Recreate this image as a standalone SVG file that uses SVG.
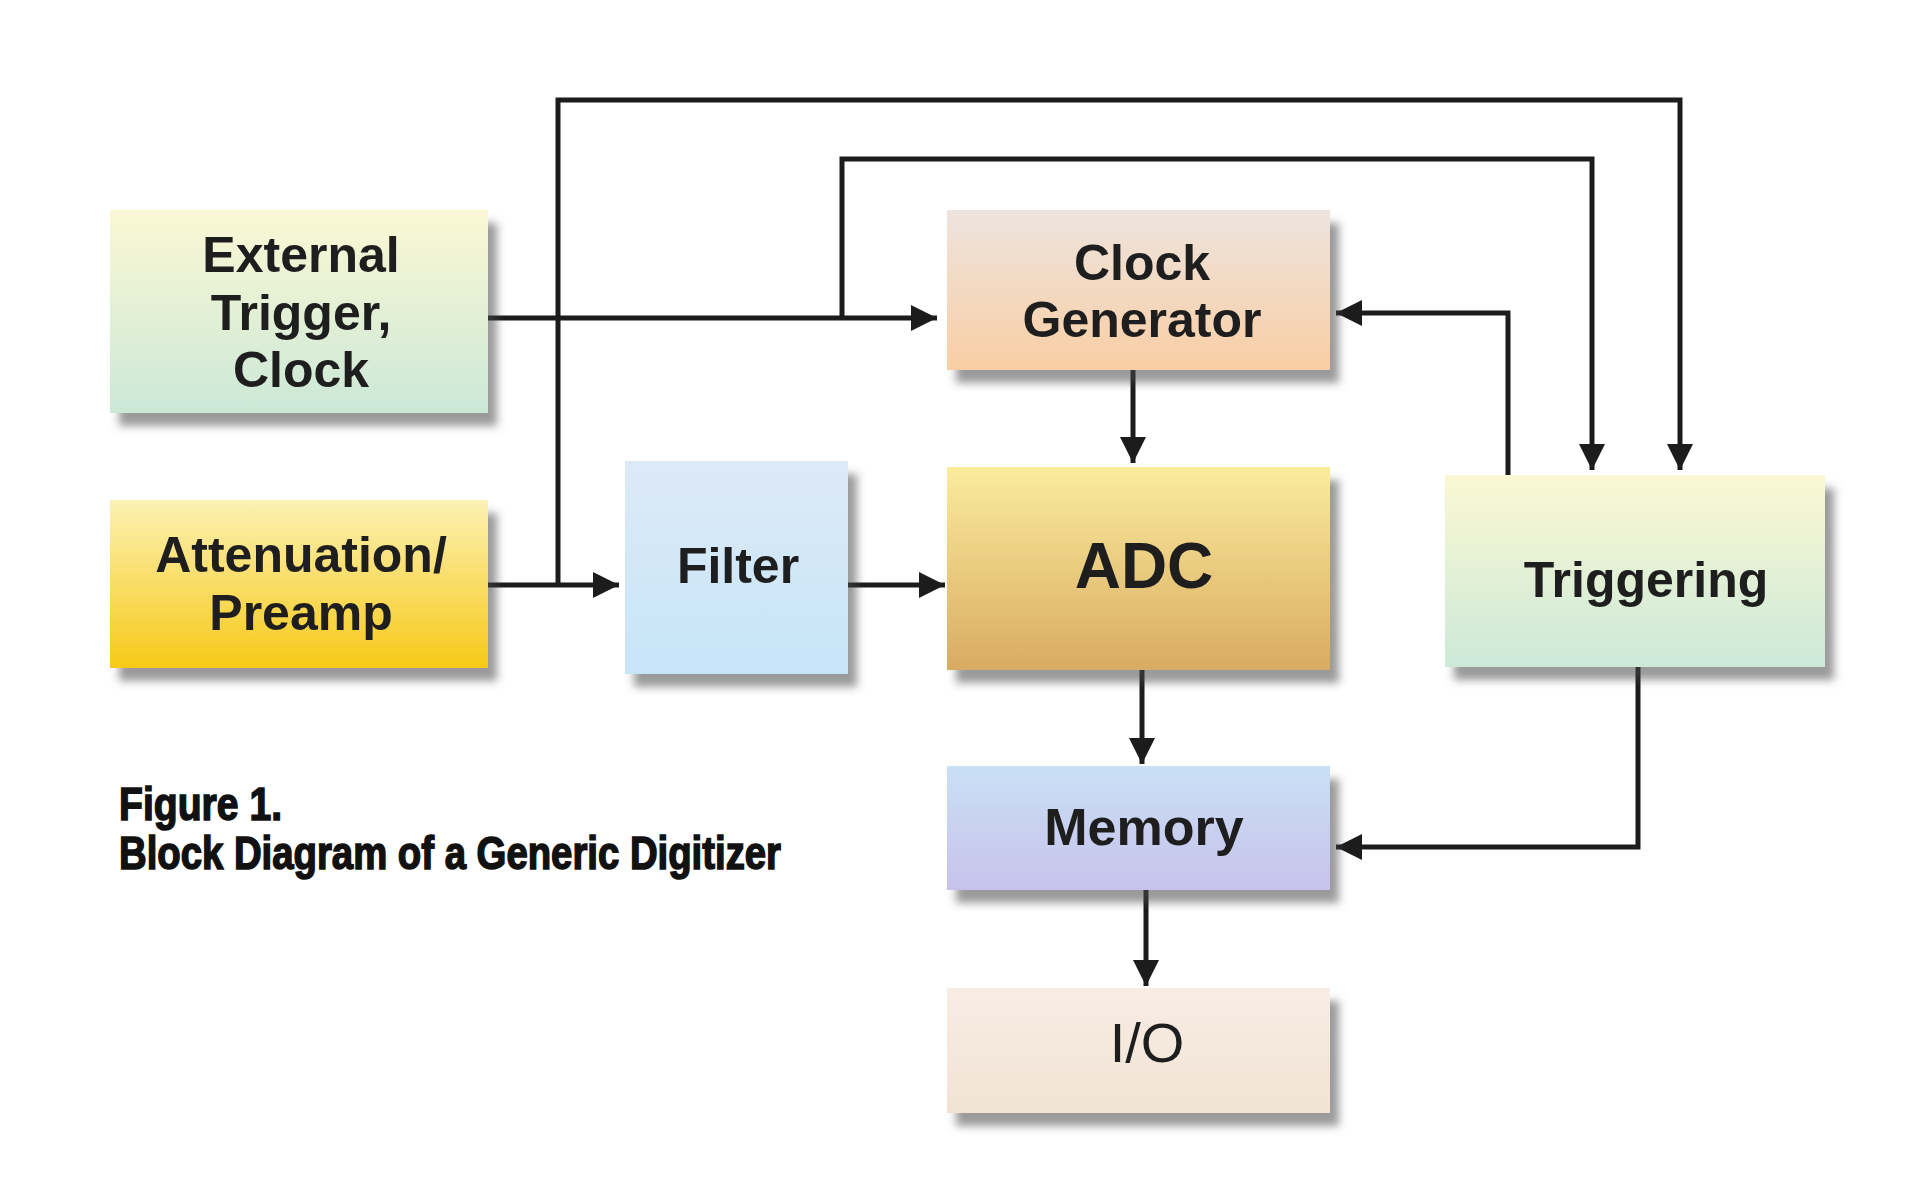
<svg xmlns="http://www.w3.org/2000/svg" width="1920" height="1191" viewBox="0 0 1920 1191">
<style>
  .lbl { font-family: "Liberation Sans", Arial, sans-serif; font-weight: bold; font-size: 50px; fill: #1e1e1e; text-anchor: middle; }
  .cap { font-family: "Liberation Sans", Arial, sans-serif; font-weight: bold; font-size: 47px; fill: #111; stroke: #111; stroke-width: 1.6; }
  .wire { fill: none; stroke: #1c1c1c; stroke-width: 5; stroke-linejoin: miter; }
  .arr { marker-end: url(#ah); }
  .box { filter: url(#sh); }
</style>
<defs>
  <filter id="sh" x="-10%" y="-10%" width="130%" height="140%">
    <feDropShadow dx="9" dy="13" stdDeviation="4" flood-color="#4a4a4a" flood-opacity="0.55"/>
  </filter>
  <marker id="ah" markerUnits="userSpaceOnUse" markerWidth="27" markerHeight="26" refX="26" refY="13" orient="auto">
    <path d="M0,0 L26,13 L0,26 z" fill="#1c1c1c"/>
  </marker>
  <linearGradient id="gExt" x1="0" y1="0" x2="0" y2="1">
    <stop offset="0" stop-color="#fbf8d4"/>
    <stop offset="1" stop-color="#cbe8d7"/>
  </linearGradient>
  <linearGradient id="gAtt" x1="0" y1="0" x2="0" y2="1">
    <stop offset="0" stop-color="#fcf1b4"/>
    <stop offset="1" stop-color="#f7c918"/>
  </linearGradient>
  <linearGradient id="gFil" x1="0" y1="0" x2="0" y2="1">
    <stop offset="0" stop-color="#dde9f7"/>
    <stop offset="1" stop-color="#c6e6f8"/>
  </linearGradient>
  <linearGradient id="gClk" x1="0" y1="0" x2="0" y2="1">
    <stop offset="0" stop-color="#ede4de"/>
    <stop offset="1" stop-color="#f9cea4"/>
  </linearGradient>
  <linearGradient id="gAdc" x1="0" y1="0" x2="0" y2="1">
    <stop offset="0" stop-color="#fbec9c"/>
    <stop offset="1" stop-color="#d9ab62"/>
  </linearGradient>
  <linearGradient id="gTrg" x1="0" y1="0" x2="0" y2="1">
    <stop offset="0" stop-color="#fbf8d3"/>
    <stop offset="1" stop-color="#cce9d8"/>
  </linearGradient>
  <linearGradient id="gMem" x1="0" y1="0" x2="0" y2="1">
    <stop offset="0" stop-color="#c9e0f6"/>
    <stop offset="1" stop-color="#c8c2eb"/>
  </linearGradient>
  <linearGradient id="gIO" x1="0" y1="0" x2="0" y2="1">
    <stop offset="0" stop-color="#f8ede4"/>
    <stop offset="1" stop-color="#f1e3d4"/>
  </linearGradient>
</defs>
<rect x="0" y="0" width="1920" height="1191" fill="#ffffff"/>

<g id="connectors">
  <path class="wire arr" d="M488,318 L937,318"/>
  <path class="wire arr" d="M842,318 L842,159 L1592,159 L1592,470"/>
  <path class="wire arr" d="M488,585 L619,585"/>
  <path class="wire arr" d="M558,585 L558,100 L1680,100 L1680,470"/>
  <path class="wire arr" d="M848,585 L945,585"/>
  <path class="wire arr" d="M1133,370 L1133,463"/>
  <path class="wire arr" d="M1508,475 L1508,313 L1336,313"/>
  <path class="wire arr" d="M1142,670 L1142,764"/>
  <path class="wire arr" d="M1638,667 L1638,847 L1336,847"/>
  <path class="wire arr" d="M1146,890 L1146,986"/>
</g>

<g id="ext-trigger">
  <rect class="box" x="110" y="210" width="378" height="203" fill="url(#gExt)"/>
  <text class="lbl" x="301" y="272">External</text>
  <text class="lbl" x="301" y="330">Trigger,</text>
  <text class="lbl" x="301" y="387">Clock</text>
</g>

<g id="attenuation">
  <rect class="box" x="110" y="500" width="378" height="168" fill="url(#gAtt)"/>
  <text class="lbl" x="301" y="572">Attenuation/</text>
  <text class="lbl" x="301" y="630">Preamp</text>
</g>

<g id="filter">
  <rect class="box" x="625" y="461" width="223" height="213" fill="url(#gFil)"/>
  <text class="lbl" x="738" y="583">Filter</text>
</g>

<g id="clock-gen">
  <rect class="box" x="947" y="210" width="383" height="160" fill="url(#gClk)"/>
  <text class="lbl" x="1142" y="280">Clock</text>
  <text class="lbl" x="1142" y="337">Generator</text>
</g>

<g id="adc">
  <rect class="box" x="947" y="467" width="383" height="203" fill="url(#gAdc)"/>
  <text class="lbl" x="1144" y="588" style="font-size:64px">ADC</text>
</g>

<g id="triggering">
  <rect class="box" x="1445" y="475" width="380" height="192" fill="url(#gTrg)"/>
  <text class="lbl" x="1646" y="597">Triggering</text>
</g>

<g id="memory">
  <rect class="box" x="947" y="766" width="383" height="124" fill="url(#gMem)"/>
  <text class="lbl" x="1144" y="845" style="font-size:52px">Memory</text>
</g>

<g id="io">
  <rect class="box" x="947" y="988" width="383" height="125" fill="url(#gIO)"/>
  <text class="lbl" x="1147" y="1062" style="font-weight:normal;font-size:56px">I/O</text>
</g>

<g id="caption">
  <text class="cap" x="119" y="820" textLength="163" lengthAdjust="spacingAndGlyphs">Figure 1.</text>
  <text class="cap" x="119" y="869" textLength="662" lengthAdjust="spacingAndGlyphs">Block Diagram of a Generic Digitizer</text>
</g>
</svg>
